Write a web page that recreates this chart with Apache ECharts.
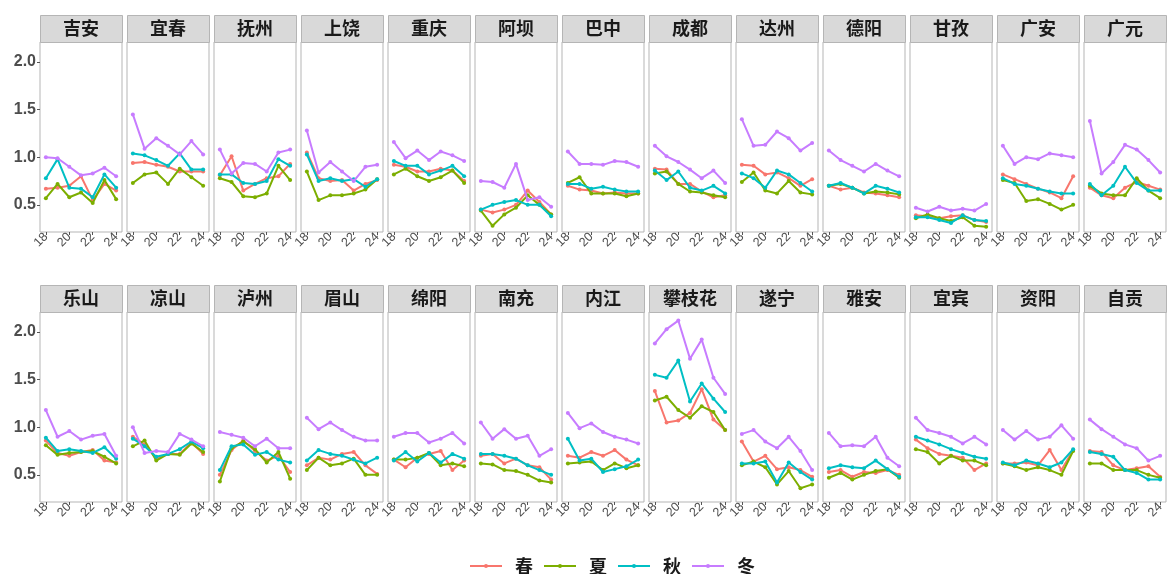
<!DOCTYPE html>
<html><head><meta charset="utf-8">
<script src="https://cdn.jsdelivr.net/npm/echarts@6/dist/echarts.min.js"></script>
<style>html,body{margin:0;padding:0;background:#fff}#c{width:1169px;height:574px}</style>
</head><body><div id="c"></div>
<script>
const years=[18,19,20,21,22,23,24];
const xTicks=[18,20,22,24];
const yTicks=[0.5,1.0,1.5,2.0];
const cities=['吉安','宜春','抚州','上饶','重庆','阿坝','巴中','成都','达州','德阳','甘孜','广安','广元',
 '乐山','凉山','泸州','眉山','绵阳','南充','内江','攀枝花','遂宁','雅安','宜宾','资阳','自贡'];
const seasonNames=['春','夏','秋','冬'];
const spring=[
[0.67,0.68,0.70,0.80,0.55,0.72,0.65],[0.94,0.95,0.92,0.90,0.85,0.85,0.85],[0.81,1.01,0.65,0.72,0.78,0.80,0.93],
[1.05,0.78,0.75,0.76,0.65,0.72,0.76],[0.92,0.90,0.85,0.85,0.88,0.86,0.75],[0.45,0.42,0.45,0.50,0.65,0.53,0.40],
[0.70,0.66,0.65,0.62,0.63,0.62,0.62],[0.88,0.87,0.72,0.72,0.64,0.58,0.60],[0.92,0.91,0.82,0.84,0.78,0.70,0.77],
[0.70,0.66,0.68,0.63,0.62,0.60,0.58],[0.39,0.38,0.36,0.38,0.39,0.34,0.32],[0.82,0.77,0.72,0.67,0.63,0.57,0.80],
[0.68,0.60,0.57,0.68,0.74,0.70,0.66],
[0.86,0.73,0.70,0.74,0.76,0.65,0.63],[0.90,0.82,0.67,0.72,0.72,0.84,0.72],[0.50,0.76,0.86,0.75,0.65,0.70,0.53],
[0.60,0.68,0.66,0.72,0.74,0.60,0.51],[0.66,0.58,0.68,0.72,0.75,0.55,0.65],[0.70,0.72,0.62,0.67,0.60,0.58,0.45],
[0.70,0.68,0.74,0.70,0.76,0.66,0.60],[1.38,1.05,1.07,1.15,1.40,1.08,0.97],[0.85,0.64,0.70,0.56,0.58,0.55,0.48],
[0.53,0.55,0.48,0.53,0.52,0.55,0.50],[0.87,0.78,0.72,0.70,0.68,0.55,0.62],[0.62,0.62,0.63,0.60,0.76,0.55,0.76],
[0.75,0.74,0.60,0.55,0.57,0.59,0.48]];
const summer=[
[0.57,0.72,0.58,0.63,0.52,0.76,0.56],[0.73,0.82,0.84,0.72,0.88,0.79,0.70],[0.78,0.74,0.59,0.58,0.62,0.91,0.76],
[0.85,0.55,0.60,0.60,0.62,0.66,0.77],[0.82,0.88,0.80,0.75,0.79,0.86,0.73],[0.44,0.28,0.40,0.47,0.60,0.50,0.40],
[0.73,0.79,0.62,0.62,0.62,0.59,0.62],[0.83,0.85,0.72,0.64,0.63,0.60,0.58],[0.74,0.84,0.65,0.62,0.75,0.63,0.61],
[0.70,0.72,0.68,0.62,0.64,0.63,0.61],[0.36,0.40,0.36,0.33,0.37,0.28,0.27],[0.76,0.73,0.54,0.56,0.51,0.45,0.50],
[0.70,0.62,0.60,0.60,0.78,0.65,0.57],
[0.81,0.71,0.73,0.74,0.75,0.69,0.62],[0.80,0.86,0.65,0.72,0.71,0.83,0.74],[0.43,0.78,0.85,0.77,0.63,0.74,0.46],
[0.55,0.68,0.60,0.62,0.67,0.50,0.50],[0.66,0.66,0.68,0.73,0.60,0.62,0.59],[0.62,0.61,0.55,0.54,0.50,0.44,0.42],
[0.62,0.63,0.64,0.55,0.62,0.57,0.60],[1.28,1.32,1.18,1.10,1.22,1.16,0.97],[0.60,0.64,0.58,0.40,0.54,0.36,0.40],
[0.47,0.52,0.45,0.50,0.54,0.56,0.47],[0.77,0.74,0.62,0.70,0.65,0.65,0.60],[0.62,0.59,0.55,0.58,0.55,0.50,0.75],
[0.62,0.62,0.55,0.55,0.55,0.50,0.47]];
const autumn=[
[0.78,0.98,0.68,0.67,0.58,0.82,0.68],[1.04,1.02,0.97,0.91,1.04,0.87,0.87],[0.82,0.82,0.73,0.72,0.75,0.98,0.91],
[1.03,0.75,0.78,0.75,0.77,0.69,0.77],[0.96,0.91,0.91,0.82,0.86,0.91,0.80],[0.45,0.50,0.53,0.55,0.50,0.50,0.38],
[0.72,0.72,0.67,0.69,0.66,0.64,0.64],[0.86,0.76,0.85,0.68,0.65,0.70,0.62],[0.83,0.78,0.68,0.86,0.82,0.73,0.64],
[0.70,0.73,0.68,0.62,0.70,0.67,0.63],[0.37,0.37,0.34,0.31,0.39,0.34,0.33],[0.78,0.72,0.70,0.67,0.64,0.62,0.62],
[0.72,0.60,0.70,0.90,0.73,0.65,0.65],
[0.89,0.75,0.77,0.75,0.73,0.79,0.67],[0.88,0.80,0.69,0.72,0.77,0.85,0.78],[0.55,0.80,0.82,0.71,0.74,0.66,0.63],
[0.65,0.76,0.72,0.70,0.66,0.62,0.68],[0.65,0.74,0.64,0.73,0.63,0.72,0.67],[0.72,0.72,0.70,0.67,0.60,0.55,0.50],
[0.88,0.65,0.67,0.53,0.56,0.59,0.66],[1.55,1.52,1.70,1.27,1.46,1.30,1.16],[0.62,0.62,0.64,0.42,0.63,0.53,0.45],
[0.57,0.60,0.58,0.57,0.65,0.56,0.48],[0.90,0.86,0.82,0.77,0.73,0.69,0.67],[0.63,0.60,0.65,0.62,0.58,0.63,0.77],
[0.74,0.72,0.69,0.55,0.52,0.45,0.45]];
const winter=[
[1.00,0.99,0.90,0.81,0.83,0.89,0.80],[1.45,1.09,1.20,1.12,1.03,1.17,1.03],[1.08,0.83,0.94,0.93,0.85,1.05,1.08],
[1.28,0.84,0.95,0.85,0.75,0.90,0.92],[1.16,0.99,1.07,0.97,1.06,1.02,0.96],[0.75,0.74,0.68,0.93,0.55,0.58,0.48],
[1.06,0.93,0.93,0.92,0.96,0.95,0.90],[1.12,1.01,0.95,0.87,0.78,0.86,0.73],[1.40,1.12,1.13,1.27,1.20,1.07,1.15],
[1.07,0.97,0.91,0.85,0.93,0.86,0.80],[0.47,0.43,0.48,0.44,0.46,0.44,0.51],[1.12,0.93,1.00,0.98,1.04,1.02,1.00],
[1.38,0.83,0.95,1.13,1.08,0.97,0.84],
[1.18,0.90,0.96,0.87,0.91,0.93,0.70],[1.00,0.73,0.75,0.74,0.93,0.87,0.80],[0.95,0.92,0.89,0.80,0.88,0.78,0.78],
[1.10,0.98,1.05,0.97,0.90,0.86,0.86],[0.90,0.94,0.94,0.84,0.88,0.94,0.83],[1.05,0.88,0.98,0.88,0.91,0.70,0.77],
[1.15,0.99,1.04,0.95,0.90,0.87,0.83],[1.88,2.03,2.12,1.72,1.92,1.52,1.35],[0.93,0.97,0.85,0.78,0.90,0.75,0.55],
[0.94,0.80,0.81,0.80,0.90,0.68,0.59],[1.10,0.97,0.94,0.90,0.83,0.90,0.82],[0.97,0.87,0.96,0.87,0.90,1.02,0.88],
[1.08,0.98,0.90,0.82,0.78,0.65,0.70]];

const seasonData=[spring,summer,autumn,winter];
const colors=['#F8766D','#7CAE00','#00BFC4','#C77CFF'];
const CJK='"Noto Sans CJK SC","Noto Sans",sans-serif';
const NUM='"Liberation Sans",Arial,sans-serif';

const grids=[],xAxes=[],yAxes=[],series=[],graphics=[];
const perRow=13, pLeft=40, pStep=87, pW=82, rowTop=[42,312], pH=190, stripH=27;
cities.forEach((name,i)=>{
  const r=Math.floor(i/perRow), c=i%perRow;
  const left=pLeft+c*pStep, top=rowTop[r];
  grids.push({left:left,top:top,width:pW,height:pH,show:true,borderColor:'#b5b5b5',borderWidth:1,backgroundColor:'#fff'});
  xAxes.push({type:'value',gridIndex:i,min:17.5,max:24.5,
    axisLine:{show:false},splitLine:{show:false},
    axisTick:{show:true,customValues:xTicks,length:3,lineStyle:{color:'#555'}},
    axisLabel:{customValues:xTicks,rotate:45,fontSize:12.5,color:'#4d4d4d',fontFamily:NUM,margin:3}});
  yAxes.push({type:'value',gridIndex:i,min:0.215,max:2.21,
    axisLine:{show:false},splitLine:{show:false},
    axisTick:{show:c===0,customValues:yTicks,length:3,lineStyle:{color:'#555'}},
    axisLabel:{show:c===0,customValues:yTicks,fontSize:16,fontWeight:'bold',color:'#4d4d4d',fontFamily:NUM,margin:4,
      formatter:v=>v.toFixed(1)}});
  seasonData.forEach((sd,s)=>{
    series.push({type:'line',name:seasonNames[s],xAxisIndex:i,yAxisIndex:i,
      data:years.map((y,k)=>[y,sd[i][k]]),
      symbol:'circle',symbolSize:4,showSymbol:true,
      itemStyle:{color:colors[s]},lineStyle:{color:colors[s],width:2},
      emphasis:{disabled:true},animation:false,z:2+s});
  });
  graphics.push({type:'rect',left:left,top:top-stripH,shape:{width:pW,height:stripH},
    style:{fill:'#d9d9d9',stroke:'#b5b5b5',lineWidth:1},z:10});
  graphics.push({type:'text',x:left+pW/2,y:top-stripH/2,
    style:{text:name,fill:'#1a1a1a',font:'bold 18px '+CJK,textAlign:'center',textVerticalAlign:'middle'},z:11});
});

const chart=echarts.init(document.getElementById('c'),null,{renderer:'canvas'});
chart.setOption({
  backgroundColor:'#fff',
  animation:false,
  grid:grids,xAxis:xAxes,yAxis:yAxes,series:series,
  graphic:graphics,
  legend:{data:seasonNames,left:464,top:552,itemWidth:32,itemHeight:5,itemGap:10,
    itemStyle:{opacity:1},lineStyle:{width:2},
    textStyle:{fontSize:18,fontWeight:'bold',color:'#1a1a1a',fontFamily:CJK,padding:[0,0,0,8]}}
});
</script></body></html>
